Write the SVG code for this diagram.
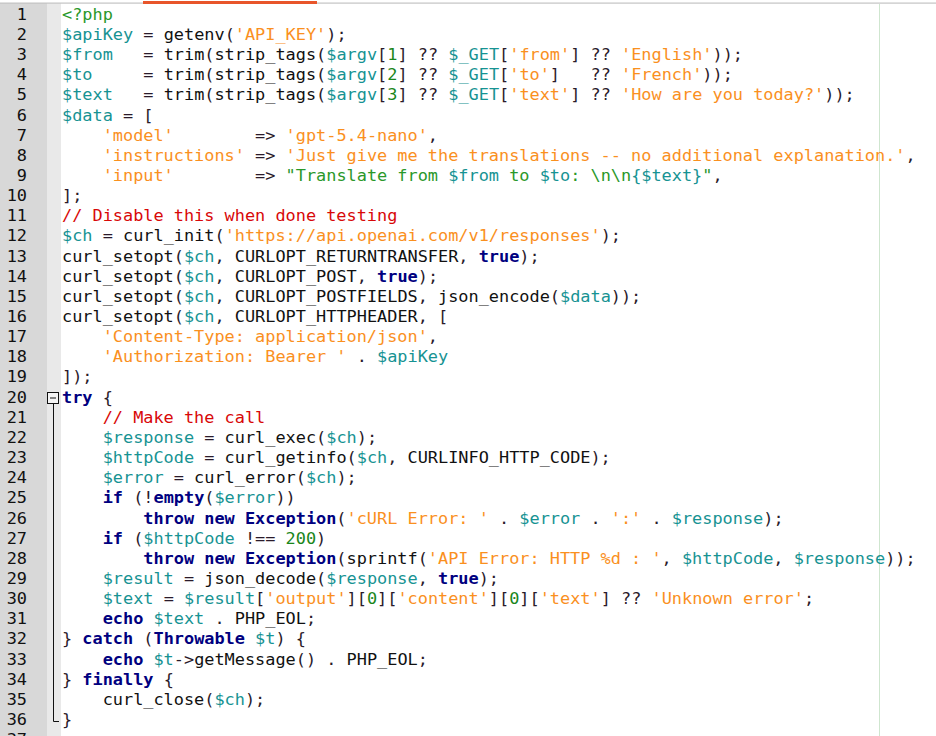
<svg xmlns="http://www.w3.org/2000/svg" width="936" height="736" viewBox="0 0 936 736" xml:space="preserve">
<style>
text{font-family:"DejaVu Sans Mono","Liberation Mono",monospace;font-size:15.65px;fill:#111;white-space:pre}
.ln{fill:#111;text-anchor:end}
.k{fill:#00007f;font-weight:bold}
.v{fill:#179393}
.s{fill:#fa901e}
.n{fill:#1a861a}
.c{fill:#d80808}
.h{fill:#2a982a}
.p{fill:#2a1a2a}
</style>
<g id="background">
<rect x="0" y="0" width="936" height="736" fill="#ffffff"/>
<rect x="0" y="3" width="47" height="733" fill="#d8d8d8"/>
<rect x="47" y="3" width="14" height="733" fill="#e9e9e9"/>
<rect x="0" y="2.5" width="936" height="1.2" fill="#c4c4c4"/>
<rect x="143" y="1" width="174" height="3" fill="#e8552a"/>
<line x1="879.5" y1="4" x2="879.5" y2="736" stroke="#cfe6cf" stroke-width="1"/>
</g>
<g id="fold-marker" fill="none" stroke="#111" stroke-width="1">
<rect x="47.5" y="392.5" width="11" height="11" fill="#f4f4f4"/>
<line x1="50" y1="398" x2="56" y2="398"/>
<polyline points="53.5,403.5 53.5,721.5 59,721.5"/>
</g>
<g id="line-numbers" transform="scale(1.08 1)">
<text class="ln" x="25" y="19.8">1</text>
<text class="ln" x="25" y="39.95">2</text>
<text class="ln" x="25" y="60.1">3</text>
<text class="ln" x="25" y="80.25">4</text>
<text class="ln" x="25" y="100.4">5</text>
<text class="ln" x="25" y="120.55">6</text>
<text class="ln" x="25" y="140.7">7</text>
<text class="ln" x="25" y="160.85">8</text>
<text class="ln" x="25" y="181">9</text>
<text class="ln" x="25" y="201.15">10</text>
<text class="ln" x="25" y="221.3">11</text>
<text class="ln" x="25" y="241.45">12</text>
<text class="ln" x="25" y="261.6">13</text>
<text class="ln" x="25" y="281.75">14</text>
<text class="ln" x="25" y="301.9">15</text>
<text class="ln" x="25" y="322.05">16</text>
<text class="ln" x="25" y="342.2">17</text>
<text class="ln" x="25" y="362.35">18</text>
<text class="ln" x="25" y="382.5">19</text>
<text class="ln" x="25" y="402.65">20</text>
<text class="ln" x="25" y="422.8">21</text>
<text class="ln" x="25" y="442.95">22</text>
<text class="ln" x="25" y="463.1">23</text>
<text class="ln" x="25" y="483.25">24</text>
<text class="ln" x="25" y="503.4">25</text>
<text class="ln" x="25" y="523.55">26</text>
<text class="ln" x="25" y="543.7">27</text>
<text class="ln" x="25" y="563.85">28</text>
<text class="ln" x="25" y="584">29</text>
<text class="ln" x="25" y="604.15">30</text>
<text class="ln" x="25" y="624.3">31</text>
<text class="ln" x="25" y="644.45">32</text>
<text class="ln" x="25" y="664.6">33</text>
<text class="ln" x="25" y="684.75">34</text>
<text class="ln" x="25" y="704.9">35</text>
<text class="ln" x="25" y="725.05">36</text>
<text class="ln" x="25" y="745.2">37</text>
</g>
<g id="code" transform="translate(62 0) scale(1.08 1)">
<text x="0" y="19.8"><tspan class="h">&lt;?php</tspan></text>
<text x="0" y="39.95"><tspan class="v">$apiKey</tspan> <tspan class="p">=</tspan> getenv<tspan class="p">(</tspan><tspan class="s">'API_KEY'</tspan><tspan class="p">);</tspan></text>
<text x="0" y="60.1"><tspan class="v">$from</tspan>   <tspan class="p">=</tspan> trim<tspan class="p">(</tspan>strip_tags<tspan class="p">(</tspan><tspan class="v">$argv</tspan><tspan class="p">[</tspan><tspan class="n">1</tspan><tspan class="p">]</tspan> <tspan class="p">??</tspan> <tspan class="v">$_GET</tspan><tspan class="p">[</tspan><tspan class="s">'from'</tspan><tspan class="p">]</tspan> <tspan class="p">??</tspan> <tspan class="s">'English'</tspan><tspan class="p">));</tspan></text>
<text x="0" y="80.25"><tspan class="v">$to</tspan>     <tspan class="p">=</tspan> trim<tspan class="p">(</tspan>strip_tags<tspan class="p">(</tspan><tspan class="v">$argv</tspan><tspan class="p">[</tspan><tspan class="n">2</tspan><tspan class="p">]</tspan> <tspan class="p">??</tspan> <tspan class="v">$_GET</tspan><tspan class="p">[</tspan><tspan class="s">'to'</tspan><tspan class="p">]</tspan>   <tspan class="p">??</tspan> <tspan class="s">'French'</tspan><tspan class="p">));</tspan></text>
<text x="0" y="100.4"><tspan class="v">$text</tspan>   <tspan class="p">=</tspan> trim<tspan class="p">(</tspan>strip_tags<tspan class="p">(</tspan><tspan class="v">$argv</tspan><tspan class="p">[</tspan><tspan class="n">3</tspan><tspan class="p">]</tspan> <tspan class="p">??</tspan> <tspan class="v">$_GET</tspan><tspan class="p">[</tspan><tspan class="s">'text'</tspan><tspan class="p">]</tspan> <tspan class="p">??</tspan> <tspan class="s">'How are you today?'</tspan><tspan class="p">));</tspan></text>
<text x="0" y="120.55"><tspan class="v">$data</tspan> <tspan class="p">=</tspan> <tspan class="p">[</tspan></text>
<text x="0" y="140.7">    <tspan class="s">'model'</tspan>        <tspan class="p">=&gt;</tspan> <tspan class="s">'gpt-5.4-nano'</tspan><tspan class="p">,</tspan></text>
<text x="0" y="160.85">    <tspan class="s">'instructions'</tspan> <tspan class="p">=&gt;</tspan> <tspan class="s">'Just give me the translations -- no additional explanation.'</tspan><tspan class="p">,</tspan></text>
<text x="0" y="181">    <tspan class="s">'input'</tspan>        <tspan class="p">=&gt;</tspan> <tspan class="h">"Translate from </tspan><tspan class="v">$from</tspan><tspan class="h"> to </tspan><tspan class="v">$to</tspan><tspan class="h">: \n\n</tspan><tspan class="v">{$text}</tspan><tspan class="h">"</tspan><tspan class="p">,</tspan></text>
<text x="0" y="201.15"><tspan class="p">];</tspan></text>
<text x="0" y="221.3"><tspan class="c">// Disable this when done testing</tspan></text>
<text x="0" y="241.45"><tspan class="v">$ch</tspan> <tspan class="p">=</tspan> curl_init<tspan class="p">(</tspan><tspan class="s">'https://api.openai.com/v1/responses'</tspan><tspan class="p">);</tspan></text>
<text x="0" y="261.6">curl_setopt<tspan class="p">(</tspan><tspan class="v">$ch</tspan><tspan class="p">,</tspan> CURLOPT_RETURNTRANSFER<tspan class="p">,</tspan> <tspan class="k">true</tspan><tspan class="p">);</tspan></text>
<text x="0" y="281.75">curl_setopt<tspan class="p">(</tspan><tspan class="v">$ch</tspan><tspan class="p">,</tspan> CURLOPT_POST<tspan class="p">,</tspan> <tspan class="k">true</tspan><tspan class="p">);</tspan></text>
<text x="0" y="301.9">curl_setopt<tspan class="p">(</tspan><tspan class="v">$ch</tspan><tspan class="p">,</tspan> CURLOPT_POSTFIELDS<tspan class="p">,</tspan> json_encode<tspan class="p">(</tspan><tspan class="v">$data</tspan><tspan class="p">));</tspan></text>
<text x="0" y="322.05">curl_setopt<tspan class="p">(</tspan><tspan class="v">$ch</tspan><tspan class="p">,</tspan> CURLOPT_HTTPHEADER<tspan class="p">,</tspan> <tspan class="p">[</tspan></text>
<text x="0" y="342.2">    <tspan class="s">'Content-Type: application/json'</tspan><tspan class="p">,</tspan></text>
<text x="0" y="362.35">    <tspan class="s">'Authorization: Bearer '</tspan> <tspan class="p">.</tspan> <tspan class="v">$apiKey</tspan></text>
<text x="0" y="382.5"><tspan class="p">]);</tspan></text>
<text x="0" y="402.65"><tspan class="k">try</tspan> <tspan class="p">{</tspan></text>
<text x="0" y="422.8">    <tspan class="c">// Make the call</tspan></text>
<text x="0" y="442.95">    <tspan class="v">$response</tspan> <tspan class="p">=</tspan> curl_exec<tspan class="p">(</tspan><tspan class="v">$ch</tspan><tspan class="p">);</tspan></text>
<text x="0" y="463.1">    <tspan class="v">$httpCode</tspan> <tspan class="p">=</tspan> curl_getinfo<tspan class="p">(</tspan><tspan class="v">$ch</tspan><tspan class="p">,</tspan> CURLINFO_HTTP_CODE<tspan class="p">);</tspan></text>
<text x="0" y="483.25">    <tspan class="v">$error</tspan> <tspan class="p">=</tspan> curl_error<tspan class="p">(</tspan><tspan class="v">$ch</tspan><tspan class="p">);</tspan></text>
<text x="0" y="503.4">    <tspan class="k">if</tspan> <tspan class="p">(!</tspan><tspan class="k">empty</tspan><tspan class="p">(</tspan><tspan class="v">$error</tspan><tspan class="p">))</tspan></text>
<text x="0" y="523.55">        <tspan class="k">throw new Exception</tspan><tspan class="p">(</tspan><tspan class="s">'cURL Error: '</tspan> <tspan class="p">.</tspan> <tspan class="v">$error</tspan> <tspan class="p">.</tspan> <tspan class="s">':'</tspan> <tspan class="p">.</tspan> <tspan class="v">$response</tspan><tspan class="p">);</tspan></text>
<text x="0" y="543.7">    <tspan class="k">if</tspan> <tspan class="p">(</tspan><tspan class="v">$httpCode</tspan> <tspan class="p">!==</tspan> <tspan class="n">200</tspan><tspan class="p">)</tspan></text>
<text x="0" y="563.85">        <tspan class="k">throw new Exception</tspan><tspan class="p">(</tspan>sprintf<tspan class="p">(</tspan><tspan class="s">'API Error: HTTP %d : '</tspan><tspan class="p">,</tspan> <tspan class="v">$httpCode</tspan><tspan class="p">,</tspan> <tspan class="v">$response</tspan><tspan class="p">));</tspan></text>
<text x="0" y="584">    <tspan class="v">$result</tspan> <tspan class="p">=</tspan> json_decode<tspan class="p">(</tspan><tspan class="v">$response</tspan><tspan class="p">,</tspan> <tspan class="k">true</tspan><tspan class="p">);</tspan></text>
<text x="0" y="604.15">    <tspan class="v">$text</tspan> <tspan class="p">=</tspan> <tspan class="v">$result</tspan><tspan class="p">[</tspan><tspan class="s">'output'</tspan><tspan class="p">][</tspan><tspan class="n">0</tspan><tspan class="p">][</tspan><tspan class="s">'content'</tspan><tspan class="p">][</tspan><tspan class="n">0</tspan><tspan class="p">][</tspan><tspan class="s">'text'</tspan><tspan class="p">]</tspan> <tspan class="p">??</tspan> <tspan class="s">'Unknown error'</tspan><tspan class="p">;</tspan></text>
<text x="0" y="624.3">    <tspan class="k">echo</tspan> <tspan class="v">$text</tspan> <tspan class="p">.</tspan> PHP_EOL<tspan class="p">;</tspan></text>
<text x="0" y="644.45"><tspan class="p">}</tspan> <tspan class="k">catch</tspan> <tspan class="p">(</tspan><tspan class="k">Throwable</tspan> <tspan class="v">$t</tspan><tspan class="p">)</tspan> <tspan class="p">{</tspan></text>
<text x="0" y="664.6">    <tspan class="k">echo</tspan> <tspan class="v">$t</tspan><tspan class="p">-&gt;</tspan>getMessage<tspan class="p">()</tspan> <tspan class="p">.</tspan> PHP_EOL<tspan class="p">;</tspan></text>
<text x="0" y="684.75"><tspan class="p">}</tspan> <tspan class="k">finally</tspan> <tspan class="p">{</tspan></text>
<text x="0" y="704.9">    curl_close<tspan class="p">(</tspan><tspan class="v">$ch</tspan><tspan class="p">);</tspan></text>
<text x="0" y="725.05"><tspan class="p">}</tspan></text>
</g>
</svg>
